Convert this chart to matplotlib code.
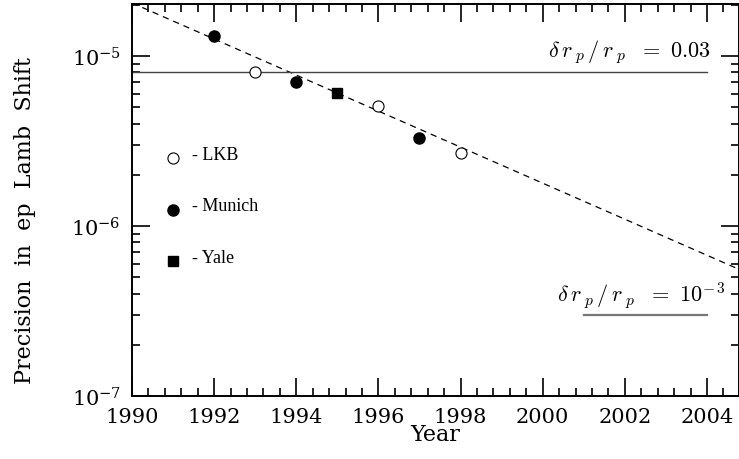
import numpy as np
import matplotlib
matplotlib.use('Agg')
import matplotlib.pyplot as plt
from matplotlib.ticker import MultipleLocator, LogLocator, NullFormatter

# data
lkb_years = [1993, 1996, 1998]
lkb_prec = [8.05e-6, 5.08e-6, 2.68e-6]
munich_years = [1992, 1994, 1997]
munich_prec = [1.31e-5, 7.03e-6, 3.30e-6]
yale_years = [1995]
yale_prec = [6.06e-6]

trend_years = [1990, 2005]
trend_prec = [2.05e-5, 5.27e-7]

level_003 = 8.0e-6
level_1e3 = 3.0e-7

legend_names = ['- LKB', '- Munich', '- Yale']
legend_y = [2.5e-6, 1.25e-6, 6.2e-7]

plt.rcParams['mathtext.fontset'] = 'cm'

fig = plt.figure(figsize=(7.39, 4.60), dpi=100)
ax = fig.add_axes([0.1786, 0.137, 0.8214, 0.852])
ax.set_yscale('log')
ax.set_xlim(1990, 2004.78)
ax.set_ylim(1e-7, 2.02e-5)

# trend and reference levels
ax.plot(trend_years, trend_prec, '--', color='black', lw=0.9, dashes=(5, 4))
ax.plot([1990, 2004], [level_003, level_003], '-', color='#444444', lw=1.0)
ax.plot([2001, 2004], [level_1e3, level_1e3], '-', color='#777777', lw=1.6)

ax.plot(lkb_years, lkb_prec, 'o', mfc='white', mec='black', mew=0.8, ms=8)
ax.plot(munich_years, munich_prec, 'o', color='black', ms=8)
ax.plot(yale_years, yale_prec, 's', color='black', ms=7.5)

# hand-made legend
ax.plot([1991], [legend_y[0]], 'o', mfc='white', mec='black', mew=0.8, ms=8)
ax.plot([1991], [legend_y[1]], 'o', color='black', ms=8)
ax.plot([1991], [legend_y[2]], 's', color='black', ms=7.5)
for name, yy in zip(legend_names, legend_y):
    ax.text(1991.45, yy * 1.05, name, fontsize=13, family='Liberation Serif',
            va='center', ha='left')

ax.text(2004.1, 8.9e-6, r'$\delta\, r\, _p\, /\, r\, _p\ \ =\ \mathsf{0.03}$', fontsize=16,
        ha='right', va='bottom')
ax.text(2004.45, 3.15e-7, r'$\delta\, r\, _p\, /\, r\, _p\ \ =\ \mathsf{10^{-\,3}}$', fontsize=16,
        ha='right', va='bottom')

ax.xaxis.set_major_locator(MultipleLocator(2))
ax.xaxis.set_minor_locator(MultipleLocator(0.4))
ax.yaxis.set_major_locator(LogLocator(base=10, numticks=10))
ax.yaxis.set_minor_locator(LogLocator(base=10, subs=np.arange(2, 10), numticks=20))
ax.yaxis.set_minor_formatter(NullFormatter())
ax.tick_params(which='both', direction='in', top=True, right=True, width=1.2)
ax.tick_params(which='major', length=13, labelsize=15, pad=8)
ax.tick_params(which='minor', length=6)
for lab in ax.get_xticklabels() + ax.get_yticklabels():
    lab.set_family('DejaVu Serif')
for s in ax.spines.values():
    s.set_linewidth(1.4)

ax.set_xlabel('Year', fontsize=16, family='DejaVu Serif', labelpad=-2)
ax.set_ylabel('Precision  in  ep  Lamb  Shift', fontsize=16, family='DejaVu Serif')
ax.yaxis.set_label_coords(-0.158, 0.45)

fig.savefig('out.png', dpi=100)
